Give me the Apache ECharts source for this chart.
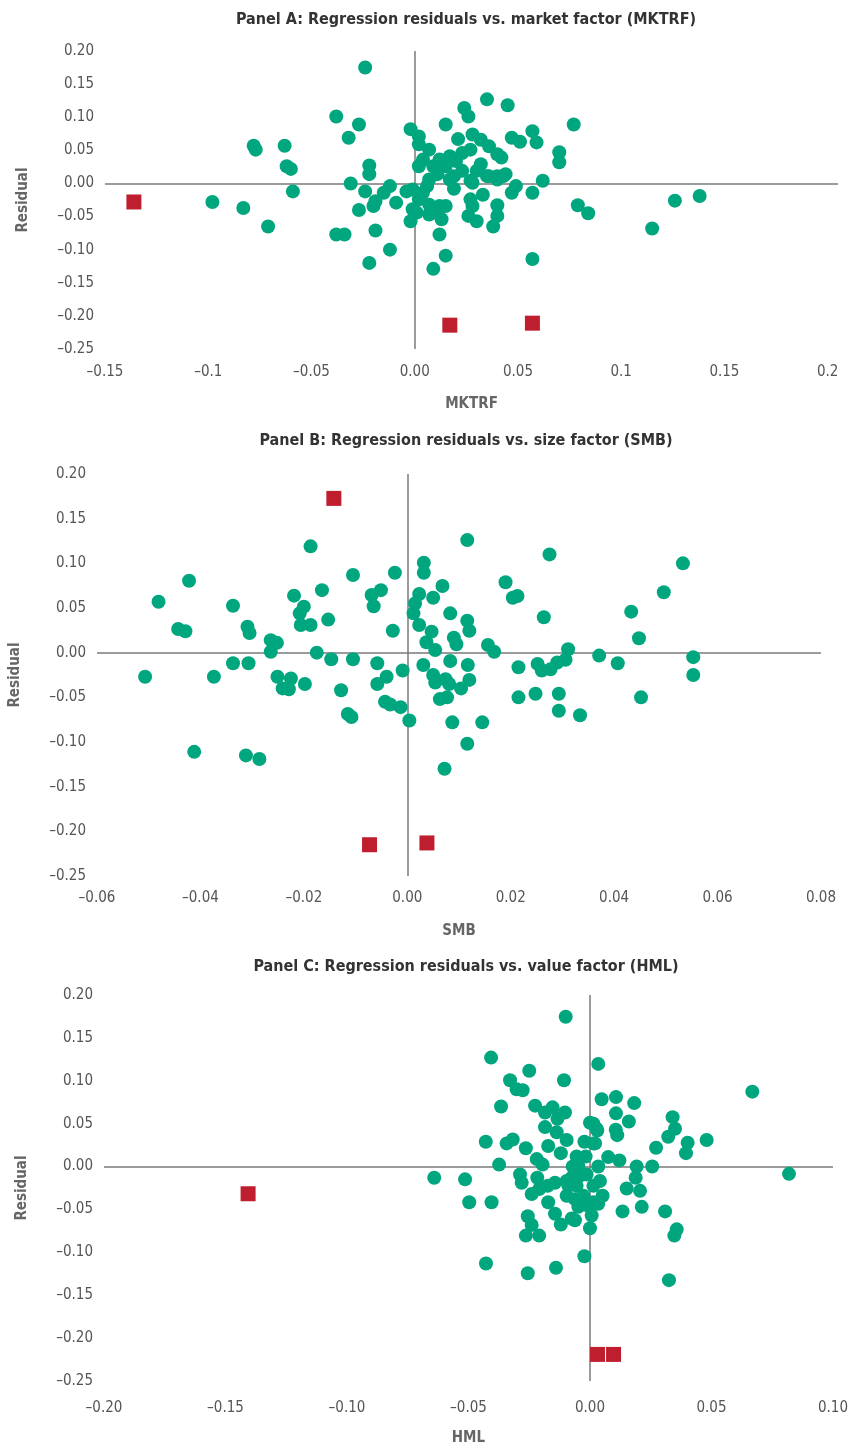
<!DOCTYPE html>
<html>
<head>
<meta charset="utf-8">
<script src="https://cdn.jsdelivr.net/npm/echarts@6/dist/echarts.min.js"></script>
<style>
html,body{margin:0;padding:0;background:#fff;}
#chart{width:851px;height:1447px;}
</style>
</head>
<body>
<div id="chart"></div>
<script>
// ---------- DATA ----------
const titles = [
  'Panel A: Regression residuals vs. market factor (MKTRF)',
  'Panel B: Regression residuals vs. size factor (SMB)',
  'Panel C: Regression residuals vs. value factor (HML)'
];
const xNames = ['MKTRF', 'SMB', 'HML'];
const yName = 'Residual';

const yTickLabels = ['–0.25','–0.20','–0.15','–0.10','–0.05','0.00','0.05','0.10','0.15','0.20'];
const xTickLabelsA = ['–0.15','–0.1','–0.05','0.00','0.05','0.1','0.15','0.2'];
const xTickLabelsB = ['–0.06','–0.04','–0.02','0.00','0.02','0.04','0.06','0.08'];
const xTickLabelsC = ['–0.20','–0.15','–0.10','–0.05','0.00','0.05','0.10'];

const greenA = [
 [-0.098,-0.028],[-0.083,-0.037],[-0.071,-0.065],[-0.078,0.057],[-0.077,0.051],[-0.063,0.057],[-0.062,0.026],[-0.060,0.022],[-0.059,-0.012],
 [-0.024,0.175],[-0.038,0.101],[-0.027,0.089],[-0.032,0.069],[-0.022,0.027],[-0.022,0.014],[-0.031,0.0],[-0.024,-0.012],[-0.012,-0.004],[-0.015,-0.014],
 [-0.019,-0.027],[-0.020,-0.034],[-0.027,-0.040],[-0.009,-0.029],[-0.038,-0.077],[-0.034,-0.077],[-0.019,-0.071],[-0.012,-0.100],[-0.022,-0.120],
 [0.009,-0.129],[0.015,-0.109],[0.012,-0.077],[0.057,-0.114],
 [-0.002,0.082],[0.002,0.071],[0.002,0.059],[0.007,0.051],[0.015,0.089],[0.024,0.114],[0.026,0.101],[0.035,0.127],[0.045,0.118],[0.077,0.089],
 [0.021,0.067],[0.028,0.074],[0.032,0.066],[0.036,0.056],[0.040,0.044],[0.042,0.039],[0.047,0.069],[0.051,0.063],[0.057,0.079],[0.059,0.062],
 [0.070,0.047],[0.070,0.032],[0.062,0.004],[0.057,-0.014],[0.079,-0.033],[0.084,-0.045],[0.049,-0.004],[0.047,-0.014],[0.044,0.014],[0.040,0.011],
 [0.036,0.011],[0.032,0.029],[0.027,0.051],[0.023,0.046],[0.020,0.034],[0.017,0.041],[0.015,0.026],[0.012,0.036],[0.009,0.026],[0.004,0.036],
 [0.002,0.026],[0.011,0.014],[0.007,0.006],[0.019,0.011],[0.019,-0.008],[0.027,0.004],[0.028,0.001],[0.035,0.011],[0.040,0.006],[0.043,0.011],
 [-0.001,-0.009],[0.004,-0.014],[0.006,-0.004],[0.002,-0.024],[-0.001,-0.039],[-0.002,-0.057],[0.007,-0.032],[0.007,-0.047],[0.012,-0.034],
 [0.015,-0.034],[0.013,-0.054],[0.011,-0.044],[0.027,-0.024],[0.028,-0.034],[0.026,-0.049],[0.030,-0.057],[0.033,-0.017],[0.040,-0.033],
 [0.040,-0.049],[0.038,-0.065],[-0.004,-0.012],[0.001,-0.044],[0.017,0.006],[0.023,0.019],[0.030,0.019],
 [0.115,-0.068],[0.126,-0.026],[0.138,-0.019]
];
const redA = [[-0.136,-0.028],[0.017,-0.214],[0.057,-0.211]];

const greenB = [
 [-0.0187,0.119],[-0.0422,0.0805],[-0.0481,0.057],[-0.0443,0.0265],[-0.0429,0.024],[-0.0337,0.0526],[-0.0309,0.029],[-0.0305,0.022],
 [-0.0264,0.014],[-0.0252,0.011],[-0.0264,0.001],[-0.0219,0.0638],[-0.0200,0.0515],[-0.0208,0.044],[-0.0206,0.031],[-0.0187,0.031],
 [-0.0165,0.070],[-0.0153,0.037],[-0.0105,0.087],[-0.0069,0.0645],[-0.0051,0.070],[-0.0065,0.052],[-0.0024,0.0895],[-0.0028,0.0246],
 [-0.0175,0.0],[-0.0147,-0.0074],[-0.0105,-0.0074],[-0.0058,-0.0119],[-0.0040,-0.027],[-0.0058,-0.035],[-0.0009,-0.020],[-0.0043,-0.055],
 [-0.0033,-0.058],[-0.0013,-0.061],[0.0004,-0.076],[-0.0128,-0.042],[-0.0115,-0.0686],[-0.0108,-0.072],[-0.0198,-0.035],[-0.0251,-0.027],
 [-0.0225,-0.029],[-0.0241,-0.040],[-0.0229,-0.041],[-0.0337,-0.0119],[-0.0307,-0.0119],[-0.0507,-0.027],[-0.0374,-0.027],[-0.0412,-0.111],
 [-0.0312,-0.115],[-0.0286,-0.119],
 [0.0116,0.126],[0.0275,0.110],[0.0533,0.100],[0.0032,0.1007],[0.0032,0.0895],[0.0068,0.0746],[0.0023,0.0657],[0.0015,0.055],[0.005,0.0615],
 [0.0012,0.044],[0.0083,0.044],[0.0023,0.031],[0.0047,0.0235],[0.0116,0.0358],[0.012,0.0246],[0.009,0.0168],[0.0095,0.0094],[0.0037,0.0116],
 [0.0054,0.003],[0.019,0.0788],[0.0204,0.0615],[0.0213,0.0634],[0.0264,0.0396],[0.0156,0.0086],[0.0168,0.001],[0.0433,0.0459],[0.0496,0.0676],
 [0.0448,0.0161],[0.0553,-0.005],[0.0553,-0.025],[0.0452,-0.050],[0.0371,-0.0033],[0.0407,-0.0119],[0.0311,0.0038],[0.0306,-0.008],
 [0.029,-0.011],[0.0277,-0.0186],[0.026,-0.020],[0.0252,-0.0126],[0.0215,-0.0164],[0.0215,-0.050],[0.0248,-0.046],[0.0293,-0.046],
 [0.0293,-0.065],[0.0334,-0.070],[0.0031,-0.0138],[0.0083,-0.0093],[0.0117,-0.0138],[0.012,-0.0305],[0.0104,-0.040],[0.005,-0.025],
 [0.0054,-0.0335],[0.0074,-0.0298],[0.0081,-0.035],[0.0063,-0.052],[0.0077,-0.050],[0.0087,-0.078],[0.0145,-0.078],[0.0116,-0.102],[0.0072,-0.130]
];
const redB = [[-0.0142,0.1727],[-0.0073,-0.215],[0.0038,-0.213]];

const greenC = [
 [-0.010,0.1746],[-0.0407,0.127],[-0.025,0.1117],[-0.0107,0.1007],[-0.0329,0.1007],[-0.0302,0.090],[-0.0277,0.089],[-0.0366,0.070],
 [-0.0226,0.071],[-0.0185,0.063],[-0.0154,0.069],[-0.0185,0.046],[-0.0134,0.0556],[-0.0103,0.063],[-0.0137,0.040],[-0.0096,0.031],
 [-0.0429,0.029],[-0.0343,0.027],[-0.0318,0.0316],[-0.0264,0.0213],[-0.0172,0.024],[-0.012,0.0156],[-0.0374,0.0023],[-0.0219,0.0087],
 [-0.0195,0.0023],[-0.0023,0.029],[0.0,0.051],[0.0027,0.044],[0.0014,0.027],[0.0034,0.1197],[0.0048,0.0785],[-0.0055,0.0118],
 [-0.0071,0.0],[-0.0048,0.0],[-0.0018,0.0118],[0.0034,0.0],[-0.0075,-0.013],[-0.0044,-0.011],[-0.0014,-0.0092],[-0.0089,-0.0225],
 [-0.0055,-0.0225],[-0.0096,-0.034],[-0.0062,-0.038],[-0.0027,-0.034],[-0.0048,-0.047],[-0.0014,-0.045],[-0.0062,-0.0626],[0.0,-0.072],
 [0.0007,-0.057],[0.0041,-0.0168],[0.0052,-0.034],[0.0034,-0.0435],[-0.0641,-0.013],[-0.0514,-0.0149],[-0.0497,-0.0416],[-0.0405,-0.0416],
 [-0.0288,-0.0092],[-0.0281,-0.0188],[-0.0217,-0.013],[-0.024,-0.032],[-0.0209,-0.0263],[-0.0174,-0.0225],[-0.0144,-0.0188],[-0.0172,-0.0416],
 [-0.0144,-0.055],[-0.012,-0.0675],[-0.0256,-0.058],[-0.024,-0.068],[-0.0264,-0.0805],[-0.0209,-0.0805],[-0.0428,-0.113],[-0.0256,-0.1244],
 [-0.014,-0.118],[-0.0023,-0.1045],[-0.0075,-0.0606],[-0.0096,-0.0168],[0.0014,-0.0225],
 [0.0107,0.081],[0.0182,0.074],[0.0107,0.062],[0.016,0.0526],[0.0106,0.043],[0.0112,0.0366],[0.0014,0.050],[0.003,0.042],[0.0021,0.027],
 [0.0075,0.011],[0.0121,0.0072],[0.0192,0.0],[0.0256,0.0],[0.0272,0.022],[0.0322,0.0347],[0.034,0.0576],[0.035,0.044],[0.0402,0.0278],
 [0.0395,0.0156],[0.048,0.031],[0.0668,0.0873],[0.0819,-0.0085],[0.0188,-0.013],[0.0151,-0.0256],[0.0206,-0.0283],[0.0134,-0.0523],
 [0.0213,-0.047],[0.0309,-0.0523],[0.0357,-0.0732],[0.0347,-0.0805],[0.0325,-0.1324],[0.0014,-0.0416]
];
const redC = [[-0.1407,-0.0317],[0.0031,-0.219],[0.0097,-0.219]];

// ---------- STYLE / LAYOUT ----------
const GREEN = '#00a67e', RED = '#be1e2d', AXIS = '#7a7a7a', TXT = '#555';
const FONT = "'Liberation Sans Narrow','DejaVu Sans Condensed','Roboto',sans-serif";

const panels = [
  {grid:{left:105, top:51, width:733, height:298}, xmin:-0.15, xmax:0.205, xstep:0.05, xl:xTickLabelsA, g:greenA, r:redA, ty:20, lm:16, ng:48},
  {grid:{left:92, top:474, width:729, height:402}, xmin:-0.06, xmax:0.08, xstep:0.02, xl:xTickLabelsB, g:greenB, r:redB, ty:441, lm:15, ng:48},
  {grid:{left:104, top:995, width:729, height:394}, xmin:-0.20, xmax:0.10, xstep:0.05, xl:xTickLabelsC, g:greenC, r:redC, ty:967, lm:20, ng:50}
];

function fmt(labels, min, step){
  return function(v){
    const i = Math.round((v - min) / step);
    if (Math.abs(v - (min + i * step)) > 1e-9) return '';
    return labels[i] !== undefined ? labels[i] : '';
  };
}

const option = {
  animation: false,
  grid: panels.map(p => Object.assign({containLabel:false}, p.grid)),
  xAxis: panels.map((p, i) => ({
    type:'value', gridIndex:i, min:p.xmin, max:p.xmax, interval:p.xstep,
    name:xNames[i], nameLocation:'middle', nameGap:p.ng,
    nameTextStyle:{fontFamily:FONT, fontWeight:'bold', fontSize:15, color:'#666'},
    axisLine:{show:false}, axisTick:{show:false}, splitLine:{show:false},
    axisLabel:{formatter:fmt(p.xl, p.xmin, p.xstep), fontFamily:FONT, fontSize:15, color:TXT, margin:p.lm, showMaxLabel:true, showMinLabel:true}
  })),
  yAxis: panels.map((p, i) => ({
    type:'value', gridIndex:i, min:-0.25, max:0.20, interval:0.05,
    name:yName, nameLocation:'middle', nameGap:74, nameRotate:90,
    nameTextStyle:{fontFamily:FONT, fontWeight:'bold', fontSize:15, color:'#666'},
    axisLine:{show:false}, axisTick:{show:false}, splitLine:{show:false},
    axisLabel:{formatter:fmt(yTickLabels, -0.25, 0.05), fontFamily:FONT, fontSize:15, color:TXT, margin:11}
  })),
  graphic: panels.map((p, i) => ({
    type:'text', x:466, y:p.ty,
    style:{text:titles[i], textAlign:'center', textVerticalAlign:'middle',
      font:"bold 16px " + FONT, fill:'#333'}
  })),
  series: []
};

panels.forEach((p, i) => {
  option.series.push({
    type:'scatter', xAxisIndex:i, yAxisIndex:i, data:p.g, symbol:'circle', symbolSize:14,
    itemStyle:{color:GREEN, opacity:1}, silent:true, z:3,
    markLine:{silent:true, symbol:['none','none'], label:{show:false},
      lineStyle:{color:AXIS, width:1.5, type:'solid', opacity:1},
      data:[{yAxis:0},{xAxis:0}], z:1}
  });
  option.series.push({
    type:'scatter', xAxisIndex:i, yAxisIndex:i, data:p.r, symbol:'rect', symbolSize:15,
    itemStyle:{color:RED, opacity:1}, silent:true, z:4
  });
});

const chart = echarts.init(document.getElementById('chart'), null, {renderer:'canvas'});
chart.setOption(option);
</script>
</body>
</html>
